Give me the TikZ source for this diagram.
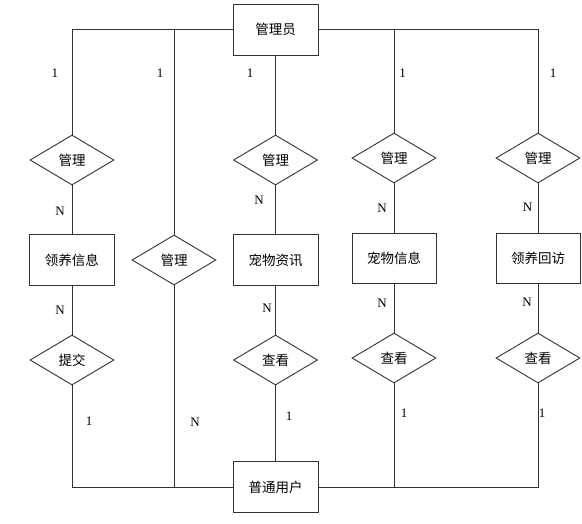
\documentclass[tikz,border=0pt]{standalone}
\usepackage{fontspec}
\setmainfont{Liberation Serif}
\newfontfamily\cjk{Noto Sans CJK SC}
\usetikzlibrary{shapes.geometric}
\tikzset{
  ent/.style={draw=black!80, line width=0.9pt, rectangle, minimum width=85pt, minimum height=51pt, inner sep=0pt, font=\cjk\fontsize{13.5pt}{15pt}\selectfont},
  rel/.style={draw=black!80, line width=0.9pt, diamond, shape aspect=1.68, minimum width=84pt, minimum height=50pt, inner sep=0pt, font=\cjk\fontsize{13.5pt}{15pt}\selectfont},
  conn/.style={draw=black!80, line width=0.9pt},
  card/.style={inner sep=0pt, font=\fontsize{13pt}{15pt}\selectfont},
}
\begin{document}
\begin{tikzpicture}[x=1pt, y=-1pt]
\useasboundingbox (0,0) rectangle (582,523);
% entities
\node[ent] (admin) at (275.5,29.5) {管理员};
\node[ent] (user) at (275.5,487) {普通用户};
\node[ent] (e1) at (72,260) {领养信息};
\node[ent] (e2) at (275.5,260) {宠物资讯};
\node[ent, minimum width=84pt, minimum height=50pt] (e3) at (394,258) {宠物信息};
\node[ent, minimum width=84pt, minimum height=50pt] (e4) at (538,258) {领养回访};
% relations
\node[rel] (m1) at (72,160) {管理};
\node[rel] (m3) at (275.5,160) {管理};
\node[rel] (m4) at (394,158) {管理};
\node[rel] (m5) at (538,158) {管理};
\node[rel] (m2) at (174,260) {管理};
\node[rel] (s1) at (72,360) {提交};
\node[rel] (s3) at (275.5,360) {查看};
\node[rel] (s4) at (394,358) {查看};
\node[rel] (s5) at (538,358) {查看};
% connectors
\draw[conn] (admin.west) -| (m1.north);
\draw[conn] (admin.west) -| (m2.north);
\draw[conn] (admin.south) -- (m3.north);
\draw[conn] (admin.east) -| (m4.north);
\draw[conn] (admin.east) -| (m5.north);
\draw[conn] (m1.south) -- (e1.north);
\draw[conn] (e1.south) -- (s1.north);
\draw[conn] (s1.south) |- (user.west);
\draw[conn] (m2.south) |- (user.west);
\draw[conn] (m3.south) -- (e2.north);
\draw[conn] (e2.south) -- (s3.north);
\draw[conn] (s3.south) -- (user.north);
\draw[conn] (m4.south) -- (e3.north);
\draw[conn] (e3.south) -- (s4.north);
\draw[conn] (s4.south) |- (user.east);
\draw[conn] (m5.south) -- (e4.north);
\draw[conn] (e4.south) -- (s5.north);
\draw[conn] (s5.south) |- (user.east);
% cardinalities
\node[card] (c1) at (55,73) {1};
\node[card] (c2) at (160,73) {1};
\node[card] (c3) at (250,73) {1};
\node[card] (c4) at (402.5,73) {1};
\node[card] (c5) at (553,73) {1};
\node[card] (n1) at (60,211) {N};
\node[card] (n3) at (259,200) {N};
\node[card] (n4) at (382,208) {N};
\node[card] (n5) at (527.5,207) {N};
\node[card] (n6) at (60,310) {N};
\node[card] (n7) at (267,308) {N};
\node[card] (n8) at (382,303) {N};
\node[card] (n9) at (527,302) {N};
\node[card] (b1) at (89,421) {1};
\node[card] (b2) at (195,422) {N};
\node[card] (b3) at (289,416) {1};
\node[card] (b4) at (404,413) {1};
\node[card] (b5) at (542,413) {1};
\end{tikzpicture}
\end{document}
